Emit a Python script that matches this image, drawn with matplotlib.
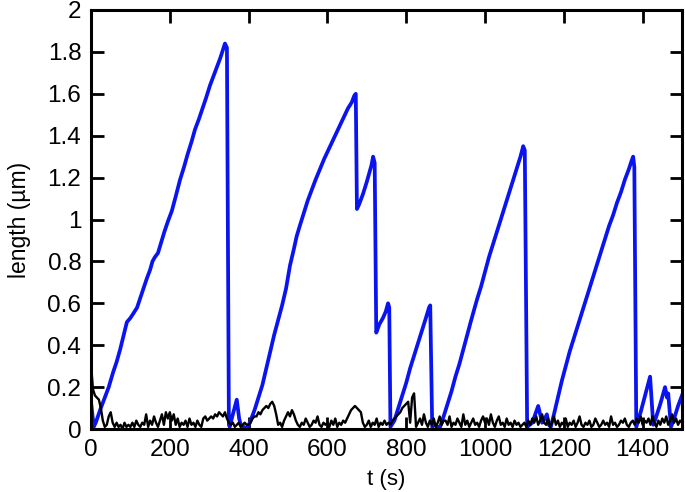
import numpy as np
import matplotlib
matplotlib.use("Agg")
import matplotlib.pyplot as plt

plt.rcParams['font.family'] = ['Liberation Sans', 'DejaVu Sans']

# ---- data ----
blue_t = [0, 4, 7, 12, 23, 35, 45, 56, 65, 74, 83, 91, 100, 107, 117, 124, 133, 142, 150, 156,
          162, 170, 178, 186, 195, 205, 215, 226, 236, 245, 255, 264, 274, 283, 292, 302, 312, 320,
          328, 335, 340, 345, 350,
          352, 360, 370, 376, 380, 388, 396,
          405, 415, 425, 435, 445, 455, 465, 475, 485, 495, 505, 515, 522, 530, 540, 550, 560, 570,
          581, 592, 602, 612, 622, 632, 642, 652, 662, 668, 672, 675, 680, 690, 700, 706, 712, 716,
          720, 724, 732, 741, 748, 754, 757, 760,
          770, 780, 790, 800, 810, 820, 830, 840, 850, 858, 861, 866,
          872, 880, 886, 895, 905, 915, 925, 935, 945, 955, 965, 980, 990, 1000, 1010, 1020, 1030,
          1040, 1050, 1060, 1070, 1080, 1090, 1097, 1101, 1107,
          1120, 1135, 1145, 1152, 1157, 1162, 1167,
          1175, 1185, 1195, 1205, 1215, 1225, 1235, 1245, 1255, 1265, 1275, 1285, 1295, 1305, 1315,
          1325, 1335, 1345, 1355, 1365, 1372, 1376, 1379, 1384,
          1395, 1405, 1412, 1419, 1427, 1433, 1445, 1457, 1462, 1465, 1472, 1480, 1490, 1500]
blue_L = [0.13, 0.06, 0.01, 0.03, 0.09, 0.15, 0.20, 0.27, 0.32, 0.38, 0.45, 0.51, 0.53, 0.55, 0.58,
          0.62, 0.67, 0.72, 0.76, 0.80,
          0.82, 0.84, 0.89, 0.94, 0.99, 1.04, 1.11, 1.19, 1.25, 1.31, 1.37, 1.43, 1.48, 1.53, 1.58,
          1.64, 1.69, 1.73, 1.77, 1.81, 1.84, 1.82, 0.02,
          0.01, 0.07, 0.14, 0.05, 0.02, 0.01, 0.00,
          0.04, 0.09, 0.15, 0.21, 0.29, 0.37, 0.45, 0.52, 0.59, 0.67, 0.78, 0.86, 0.92, 0.97, 1.03,
          1.09, 1.14, 1.19, 1.24, 1.29, 1.33, 1.37, 1.41, 1.45, 1.49, 1.53, 1.56, 1.59, 1.60, 1.05,
          1.07, 1.12, 1.18, 1.22, 1.26, 1.30, 1.27, 0.46, 0.50, 0.53, 0.56, 0.60, 0.58, 0.01,
          0.04, 0.10, 0.16, 0.22, 0.29, 0.35, 0.41, 0.47, 0.53, 0.58, 0.59, 0.01,
          0.02, 0.01, 0.01, 0.06, 0.12, 0.18, 0.25, 0.31, 0.38, 0.45, 0.52, 0.62, 0.68, 0.75, 0.82,
          0.88, 0.94, 1.00, 1.06, 1.12, 1.18, 1.24, 1.30, 1.35, 1.33, 0.01,
          0.03, 0.11, 0.03, 0.05, 0.07, 0.02, 0.01,
          0.07, 0.15, 0.23, 0.30, 0.37, 0.43, 0.49, 0.55, 0.61, 0.67, 0.73, 0.79, 0.85, 0.91, 0.97,
          1.02, 1.08, 1.13, 1.19, 1.24, 1.28, 1.30, 1.25, 0.01,
          0.08, 0.15, 0.20, 0.25, 0.02, 0.05, 0.12, 0.20, 0.15, 0.17, 0.01, 0.05, 0.11, 0.16]

black_t = np.arange(0, 1505, 5)
black_L = [
    0.31, 0.19, 0.16, 0.15, 0.14, 0.10, 0.04, 0.01, 0.02, 0.06, 0.08, 0.03, 0.01, 0.03, 0.01, 0.02, 0.00, 0.03, 0.01, 0.02,
    0.01, 0.03, 0.01, 0.04, 0.02, 0.01, 0.03, 0.02, 0.07, 0.01, 0.04, 0.02, 0.06, 0.03, 0.01, 0.04, 0.07, 0.02, 0.08, 0.05,
    0.08, 0.04, 0.07, 0.02, 0.05, 0.01, 0.03, 0.02, 0.04, 0.01, 0.05, 0.02, 0.03, 0.01, 0.04, 0.02, 0.01, 0.05, 0.06, 0.04,
    0.05, 0.06, 0.05, 0.07, 0.06, 0.08, 0.07, 0.06, 0.08, 0.05, 0.03, 0.02, 0.03, 0.01, 0.02, 0.03, 0.01, 0.02, 0.03, 0.02,
    0.02, 0.03, 0.05, 0.06, 0.06, 0.08, 0.07, 0.09, 0.10, 0.11, 0.10, 0.12, 0.13, 0.11, 0.07, 0.02, 0.03, 0.01, 0.04, 0.06,
    0.08, 0.06, 0.09, 0.07, 0.04, 0.02, 0.01, 0.03, 0.02, 0.05, 0.03, 0.01, 0.02, 0.04, 0.03, 0.06, 0.02, 0.01, 0.03, 0.02,
    0.03, 0.01, 0.04, 0.02, 0.05, 0.01, 0.03, 0.02, 0.04, 0.03, 0.05, 0.07, 0.09, 0.10, 0.11, 0.10, 0.09, 0.08, 0.03, 0.01,
    0.02, 0.04, 0.01, 0.03, 0.02, 0.05, 0.01, 0.03, 0.02, 0.04, 0.02, 0.03, 0.02, 0.04, 0.05, 0.06, 0.07, 0.08, 0.10, 0.11,
    0.12, 0.13, 0.03, 0.15, 0.17, 0.01, 0.03, 0.05, 0.02, 0.07, 0.03, 0.01, 0.04, 0.02, 0.05, 0.01, 0.03, 0.06, 0.02, 0.04,
    0.04, 0.02, 0.06, 0.01, 0.03, 0.02, 0.05, 0.03, 0.01, 0.07, 0.02, 0.04, 0.01, 0.03, 0.05, 0.02, 0.03, 0.01, 0.04, 0.06,
    0.03, 0.05, 0.02, 0.07, 0.03, 0.01, 0.04, 0.06, 0.02, 0.03, 0.01, 0.05, 0.02, 0.03, 0.01, 0.04, 0.02, 0.03, 0.01, 0.02,
    0.03, 0.01, 0.04, 0.02, 0.05, 0.03, 0.06, 0.02, 0.04, 0.07, 0.03, 0.02, 0.05, 0.01, 0.03, 0.06, 0.02, 0.04, 0.01, 0.03,
    0.02, 0.05, 0.01, 0.03, 0.02, 0.04, 0.01, 0.03, 0.06, 0.02, 0.01, 0.03, 0.02, 0.04, 0.01, 0.02, 0.05, 0.03, 0.01, 0.02,
    0.04, 0.02, 0.03, 0.01, 0.06, 0.02, 0.03, 0.01, 0.02, 0.04, 0.03, 0.05, 0.02, 0.01, 0.03, 0.04, 0.02, 0.05, 0.03, 0.06,
    0.02, 0.04, 0.03, 0.05, 0.02, 0.06, 0.03, 0.01, 0.04, 0.02, 0.05, 0.03, 0.06, 0.02, 0.04, 0.07, 0.03, 0.05, 0.02, 0.04,
    0.03]

x_ticks = [0, 200, 400, 600, 800, 1000, 1200, 1400]
y_ticks = [0, 0.2, 0.4, 0.6, 0.8, 1.0, 1.2, 1.4, 1.6, 1.8, 2.0]
y_ticklabels = ['0', '0.2', '0.4', '0.6', '0.8', '1', '1.2', '1.4', '1.6', '1.8', '2']

fig = plt.figure(figsize=(6.85, 4.92), dpi=100)
ax = fig.add_axes([91/685, 1 - 429/492, (682 - 91)/685, (429 - 10)/492])

ax.plot(blue_t, blue_L, color='#0a14f0', lw=2.7, zorder=2)
ax.plot(black_t, black_L, color='black', lw=1.7, zorder=3)

ax.set_xlim(0, 1500)
ax.set_ylim(0, 2)
ax.set_xticks(x_ticks)
ax.set_xticklabels([str(v) for v in x_ticks])
ax.set_yticks(y_ticks)
ax.set_yticklabels(y_ticklabels)

ax.tick_params(direction='in', length=9, width=2.0, labelsize=17.5,
               top=True, right=True, pad=7)
for s in ax.spines.values():
    s.set_linewidth(2.2)

ax.set_xlabel('t (s)', fontsize=16, labelpad=6)
ax.set_ylabel('length (µm)', fontsize=16.5, labelpad=12)

fig.savefig('out.png', dpi=100)
